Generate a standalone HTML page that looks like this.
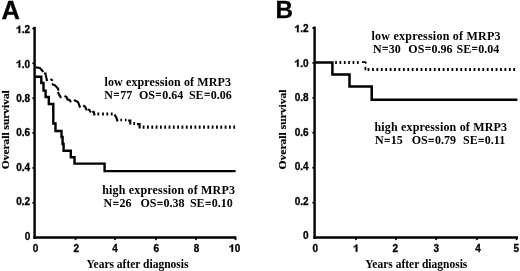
<!DOCTYPE html>
<html><head><meta charset="utf-8">
<style>
html,body{margin:0;padding:0;background:#fff;}
body{width:520px;height:271px;overflow:hidden;}
svg{display:block;will-change:transform;}
.s{font-family:"Liberation Sans",sans-serif;font-weight:bold;fill:#000;stroke:#000;stroke-width:0.3px;}
.t{font-family:"Liberation Serif",serif;font-weight:bold;fill:#000;}
</style></head><body>
<svg width="520" height="271" viewBox="0 0 520 271">
<rect width="520" height="271" fill="#fff"/>
<text class="s" x="1.4" y="18.6" font-size="25.5">A</text>
<g stroke="#000" stroke-width="2.4" fill="none"><path d="M34.6 26.8V238.85"/><path d="M33.4 237.6H236.3" stroke-width="2.5"/></g>
<path d="M33.20 202.74h1M33.20 167.88h1M33.20 133.02h1M33.20 98.16h1M33.20 63.30h1M33.20 28.44h1M75.60 238.10v1.1M115.00 238.10v1.1M155.90 238.10v1.1M195.90 238.10v1.1M235.50 238.10v1.1" stroke="#000" stroke-width="1.9" stroke-linecap="round" fill="none"/>
<text class="s" font-size="10" text-anchor="end" x="30.2" y="239.7">0</text>
<text class="s" font-size="10" text-anchor="end" x="30.2" y="205.26">0.2</text>
<text class="s" font-size="10" text-anchor="end" x="30.2" y="170.82">0.4</text>
<text class="s" font-size="10" text-anchor="end" x="30.2" y="136.38">0.6</text>
<text class="s" font-size="10" text-anchor="end" x="30.2" y="101.94">0.8</text>
<path d="M0.394 0H0.256V-0.517Q0.181 -0.447 0.079 -0.413V-0.538Q0.133 -0.555 0.196 -0.604Q0.259 -0.653 0.282 -0.719H0.394Z" transform="translate(15.70 67.50) scale(11.50 10)" fill="#000" stroke="#000" stroke-width="0.03"/><text class="s" font-size="10" text-anchor="end" x="30.2" y="67.5">.0</text>
<path d="M0.394 0H0.256V-0.517Q0.181 -0.447 0.079 -0.413V-0.538Q0.133 -0.555 0.196 -0.604Q0.259 -0.653 0.282 -0.719H0.394Z" transform="translate(15.70 33.06) scale(11.50 10)" fill="#000" stroke="#000" stroke-width="0.03"/><text class="s" font-size="10" text-anchor="end" x="30.2" y="33.06">.2</text>
<text class="s" font-size="10" text-anchor="middle" x="35.5" y="251.7">0</text>
<text class="s" font-size="10" text-anchor="middle" x="76.4" y="251.7">2</text>
<text class="s" font-size="10" text-anchor="middle" x="115" y="251.7">4</text>
<text class="s" font-size="10" text-anchor="middle" x="156.2" y="251.7">6</text>
<text class="s" font-size="10" text-anchor="middle" x="196.6" y="251.7">8</text>
<path d="M0.394 0H0.256V-0.517Q0.181 -0.447 0.079 -0.413V-0.538Q0.133 -0.555 0.196 -0.604Q0.259 -0.653 0.282 -0.719H0.394Z" transform="translate(228.54 251.70) scale(11.50 10)" fill="#000" stroke="#000" stroke-width="0.03"/><text class="s" font-size="10" x="234.7" y="251.7">0</text>
<text class="t" font-size="10.1" textLength="79" lengthAdjust="spacingAndGlyphs" stroke="#000" stroke-width="0.15" transform="translate(8.9 169.2) rotate(-90)">Overall survival</text>
<text class="t" font-size="11.5" x="86.5" y="267.5">Years after diagnosis</text>
<path fill="none" stroke="#000" stroke-width="2.4" d="M35 76.8H41.3V83H43.5V90.6H45.6V97H48.8V104H53.3V123.5H55.5V131H61.5V137H62.6V144H63.6V150.8H70.8V157.3H74.5V163.6H104.6V171.1H235.6"/>
<path fill="none" stroke="#000" stroke-width="2.1" d="M35.8 67.4L39.8 67.9L41.2 69.6L42.4 70.6L43 72.2M44 73.6H46.6M45.8 75L46.4 78L47.2 81M50.4 79L52.8 80.6M51.8 84L55 85.3L58 88.5L58.6 90.6M57.8 92L61 98M64.5 96L66.5 97L67.5 99.5L69.5 100L71 102.2M74 100L78 102L79.5 106L80.3 107.5M83.2 105.5L85 106.5L86.8 110.4M88 109.5L89.5 110L90.8 112.4M92.2 111.5L93.8 112L94.6 115.4M114.5 114.5L116.5 118L117.5 121.5M128.2 120.6H130.3V124.6M137 124.1H139.6V128.6"/>
<path fill="#000" d="M97.40 112.60h1.8v3.0h-1.8zM102.10 112.60h1.8v3.0h-1.8zM106.40 112.60h1.8v3.0h-1.8zM110.80 112.60h1.8v3.0h-1.8zM120.40 118.65h1.6v2.7h-1.6zM124.90 118.65h1.6v2.7h-1.6zM133.35 122.00h1.7v3.0h-1.7zM142.70 125.60h1.8v3.2h-1.8zM147.01 125.60h1.8v3.2h-1.8zM151.33 125.60h1.8v3.2h-1.8zM155.64 125.60h1.8v3.2h-1.8zM159.96 125.60h1.8v3.2h-1.8zM164.27 125.60h1.8v3.2h-1.8zM168.58 125.60h1.8v3.2h-1.8zM172.90 125.60h1.8v3.2h-1.8zM177.21 125.60h1.8v3.2h-1.8zM181.53 125.60h1.8v3.2h-1.8zM185.84 125.60h1.8v3.2h-1.8zM190.15 125.60h1.8v3.2h-1.8zM194.47 125.60h1.8v3.2h-1.8zM198.78 125.60h1.8v3.2h-1.8zM203.10 125.60h1.8v3.2h-1.8zM207.41 125.60h1.8v3.2h-1.8zM211.72 125.60h1.8v3.2h-1.8zM216.04 125.60h1.8v3.2h-1.8zM220.35 125.60h1.8v3.2h-1.8zM224.67 125.60h1.8v3.2h-1.8zM228.98 125.60h1.8v3.2h-1.8zM233.29 125.60h1.8v3.2h-1.8z"/>
<text class="t" font-size="12" x="104.5" y="85.7" textLength="126.5" lengthAdjust="spacing" xml:space="preserve">low expression of MRP3</text>
<text class="t" font-size="12" x="104.3" y="98.7">N<tspan font-size="10.5" dx="0.6" dy="-0.4" stroke="#000" stroke-width="0.35">=</tspan><tspan dx="0.6" dy="0.4">77</tspan></text><text class="t" font-size="12" x="139.0" y="98.7">OS<tspan font-size="10.5" dx="0.6" dy="-0.4" stroke="#000" stroke-width="0.35">=</tspan><tspan dx="0.6" dy="0.4">0.64</tspan></text><text class="t" font-size="12" x="188.9" y="98.7">SE<tspan font-size="10.5" dx="0.6" dy="-0.4" stroke="#000" stroke-width="0.35">=</tspan><tspan dx="0.6" dy="0.4">0.06</tspan></text>
<text class="t" font-size="12" x="102.2" y="194.2" textLength="132.7" lengthAdjust="spacing" xml:space="preserve">high expression of MRP3</text>
<text class="t" font-size="12" x="103.6" y="207.3">N<tspan font-size="10.5" dx="0.6" dy="-0.4" stroke="#000" stroke-width="0.35">=</tspan><tspan dx="0.6" dy="0.4">26</tspan></text><text class="t" font-size="12" x="140.4" y="207.3">OS<tspan font-size="10.5" dx="0.6" dy="-0.4" stroke="#000" stroke-width="0.35">=</tspan><tspan dx="0.6" dy="0.4">0.38</tspan></text><text class="t" font-size="12" x="189.9" y="207.3">SE<tspan font-size="10.5" dx="0.6" dy="-0.4" stroke="#000" stroke-width="0.35">=</tspan><tspan dx="0.6" dy="0.4">0.10</tspan></text>
<text class="s" x="275.5" y="17.9" font-size="24.2">B</text>
<g stroke="#000" stroke-width="2.4" fill="none"><path d="M314.6 26.5V238.85"/><path d="M313.40000000000003 237.6H518" stroke-width="2.5"/></g>
<path d="M313.20 202.66h1M313.20 167.72h1M313.20 132.78h1M313.20 97.84h1M313.20 62.90h1M313.20 27.96h1M355.90 238.10v1.1M395.90 238.10v1.1M436.20 238.10v1.1M476.90 238.10v1.1M516.60 238.10v1.1" stroke="#000" stroke-width="1.9" stroke-linecap="round" fill="none"/>
<text class="s" font-size="10" text-anchor="end" x="308.6" y="239.3">0</text>
<text class="s" font-size="10" text-anchor="end" x="308.6" y="204.78">0.2</text>
<text class="s" font-size="10" text-anchor="end" x="308.6" y="170.26">0.4</text>
<text class="s" font-size="10" text-anchor="end" x="308.6" y="135.74">0.6</text>
<text class="s" font-size="10" text-anchor="end" x="308.6" y="101.22">0.8</text>
<path d="M0.394 0H0.256V-0.517Q0.181 -0.447 0.079 -0.413V-0.538Q0.133 -0.555 0.196 -0.604Q0.259 -0.653 0.282 -0.719H0.394Z" transform="translate(294.10 66.70) scale(11.50 10)" fill="#000" stroke="#000" stroke-width="0.03"/><text class="s" font-size="10" text-anchor="end" x="308.6" y="66.7">.0</text>
<path d="M0.394 0H0.256V-0.517Q0.181 -0.447 0.079 -0.413V-0.538Q0.133 -0.555 0.196 -0.604Q0.259 -0.653 0.282 -0.719H0.394Z" transform="translate(294.10 32.18) scale(11.50 10)" fill="#000" stroke="#000" stroke-width="0.03"/><text class="s" font-size="10" text-anchor="end" x="308.6" y="32.18">.2</text>
<text class="s" font-size="10" text-anchor="middle" x="315.2" y="251.7">0</text>
<path d="M0.394 0H0.256V-0.517Q0.181 -0.447 0.079 -0.413V-0.538Q0.133 -0.555 0.196 -0.604Q0.259 -0.653 0.282 -0.719H0.394Z" transform="translate(352.82 251.70) scale(11.50 10)" fill="#000" stroke="#000" stroke-width="0.03"/>
<text class="s" font-size="10" text-anchor="middle" x="395.2" y="251.7">2</text>
<text class="s" font-size="10" text-anchor="middle" x="436.2" y="251.7">3</text>
<text class="s" font-size="10" text-anchor="middle" x="478" y="251.7">4</text>
<text class="s" font-size="10" text-anchor="middle" x="516.2" y="251.7">5</text>
<text class="t" font-size="10.1" textLength="80" lengthAdjust="spacingAndGlyphs" stroke="#000" stroke-width="0.15" transform="translate(286.2 169.5) rotate(-90)">Overall survival</text>
<text class="t" font-size="11.5" x="365.3" y="267.5">Years after diagnosis</text>
<path fill="none" stroke="#000" stroke-width="2.5" d="M314.5 62.5H332.4V74.6H349.5V86.6H371.7V99.8H517.4"/>
<path fill="#000" d="M335.15 61.10h1.7v3.0h-1.7zM339.51 61.10h1.7v3.0h-1.7zM343.87 61.10h1.7v3.0h-1.7zM348.23 61.10h1.7v3.0h-1.7zM352.59 61.10h1.7v3.0h-1.7zM356.95 61.10h1.7v3.0h-1.7zM367.60 67.95h1.8v3.1h-1.8zM372.02 67.95h1.8v3.1h-1.8zM376.43 67.95h1.8v3.1h-1.8zM380.85 67.95h1.8v3.1h-1.8zM385.26 67.95h1.8v3.1h-1.8zM389.68 67.95h1.8v3.1h-1.8zM394.09 67.95h1.8v3.1h-1.8zM398.50 67.95h1.8v3.1h-1.8zM402.92 67.95h1.8v3.1h-1.8zM407.34 67.95h1.8v3.1h-1.8zM411.75 67.95h1.8v3.1h-1.8zM416.17 67.95h1.8v3.1h-1.8zM420.58 67.95h1.8v3.1h-1.8zM425.00 67.95h1.8v3.1h-1.8zM429.41 67.95h1.8v3.1h-1.8zM433.83 67.95h1.8v3.1h-1.8zM438.24 67.95h1.8v3.1h-1.8zM442.66 67.95h1.8v3.1h-1.8zM447.07 67.95h1.8v3.1h-1.8zM451.49 67.95h1.8v3.1h-1.8zM455.90 67.95h1.8v3.1h-1.8zM460.32 67.95h1.8v3.1h-1.8zM464.73 67.95h1.8v3.1h-1.8zM469.15 67.95h1.8v3.1h-1.8zM473.56 67.95h1.8v3.1h-1.8zM477.98 67.95h1.8v3.1h-1.8zM482.39 67.95h1.8v3.1h-1.8zM486.81 67.95h1.8v3.1h-1.8zM491.22 67.95h1.8v3.1h-1.8zM495.63 67.95h1.8v3.1h-1.8zM500.05 67.95h1.8v3.1h-1.8zM504.47 67.95h1.8v3.1h-1.8zM508.88 67.95h1.8v3.1h-1.8zM513.29 67.95h1.8v3.1h-1.8z"/>
<path fill="none" stroke="#000" stroke-width="1.8" d="M362 62.1H365.2L366.3 63.4M365.4 66.8V70.3"/>
<text class="t" font-size="12" x="371.5" y="39.5" textLength="129" lengthAdjust="spacing" xml:space="preserve">low expression of MRP3</text>
<text class="t" font-size="12" x="372.9" y="52.5">N<tspan font-size="10.5" dx="0.6" dy="-0.4" stroke="#000" stroke-width="0.35">=</tspan><tspan dx="0.6" dy="0.4">30</tspan></text><text class="t" font-size="12" x="408.3" y="52.5">OS<tspan font-size="10.5" dx="0.6" dy="-0.4" stroke="#000" stroke-width="0.35">=</tspan><tspan dx="0.6" dy="0.4">0.96</tspan></text><text class="t" font-size="12" x="456.5" y="52.5">SE<tspan font-size="10.5" dx="0.6" dy="-0.4" stroke="#000" stroke-width="0.35">=</tspan><tspan dx="0.6" dy="0.4">0.04</tspan></text>
<text class="t" font-size="12" x="374.4" y="131.0" textLength="132.6" lengthAdjust="spacing" xml:space="preserve">high expression of MRP3</text>
<text class="t" font-size="12" x="374.9" y="144.3">N<tspan font-size="10.5" dx="0.6" dy="-0.4" stroke="#000" stroke-width="0.35">=</tspan><tspan dx="0.6" dy="0.4">15</tspan></text><text class="t" font-size="12" x="411.7" y="144.3">OS<tspan font-size="10.5" dx="0.6" dy="-0.4" stroke="#000" stroke-width="0.35">=</tspan><tspan dx="0.6" dy="0.4">0.79</tspan></text><text class="t" font-size="12" x="463.0" y="144.3">SE<tspan font-size="10.5" dx="0.6" dy="-0.4" stroke="#000" stroke-width="0.35">=</tspan><tspan dx="0.6" dy="0.4">0.11</tspan></text>
</svg>
</body></html>
